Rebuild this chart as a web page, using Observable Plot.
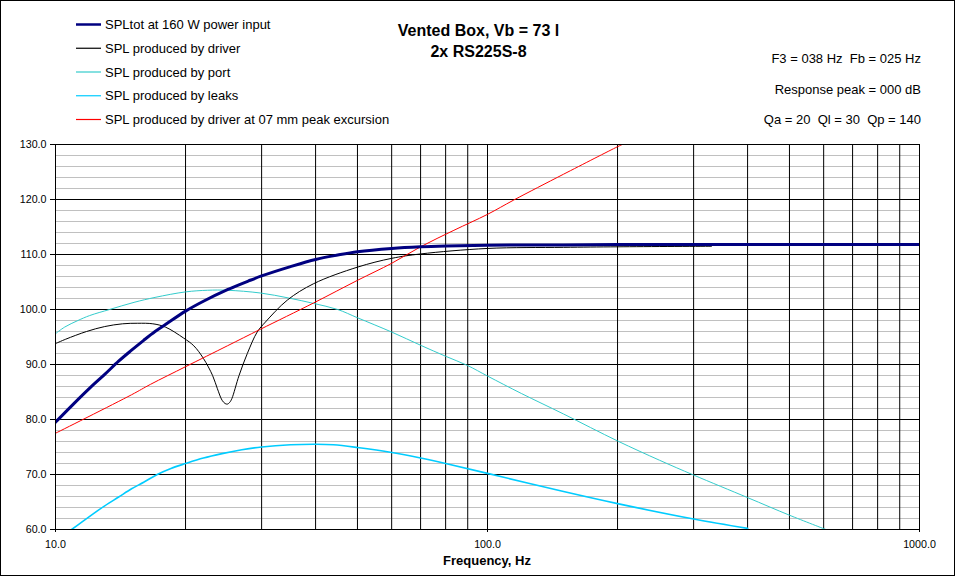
<!DOCTYPE html>
<html>
<head>
<meta charset="utf-8">
<script src="https://cdn.jsdelivr.net/npm/d3@7"></script>
<script src="https://cdn.jsdelivr.net/npm/@observablehq/plot@0.6"></script>
<style>
  html, body { margin: 0; padding: 0; background: #fff; }
  #chart svg { display: block; }
</style>
</head>
<body>
<div id="chart"></div>
<script>
// ---- Data ----
const titleLines = ["Vented Box, Vb = 73 l", "2x RS225S-8"];
const infoLines = ["F3 = 038 Hz  Fb = 025 Hz", "Response peak = 000 dB", "Qa = 20  Ql = 30  Qp = 140"];
const xTitle = "Frequency, Hz";

const seriesNames = [
  "SPLtot at 160 W power input",
  "SPL produced by driver",
  "SPL produced by port",
  "SPL produced by leaks",
  "SPL produced by driver at 07 mm peak excursion"
];
const seriesColors = ["#000080", "#000000", "#33CCCC", "#00CCFF", "#FF0000"];
const seriesWidths = [3, 1, 1, 1.6, 1];

const totFreq = [10, 11, 12, 13, 14, 15, 16, 17, 18, 20, 22, 25, 28, 30, 35, 40, 45, 50, 60, 70, 80, 100, 150, 200, 300, 500, 1000];
const totSpl  = [79.5, 82.8, 85.7, 88.2, 90.6, 92.6, 94.4, 96.0, 97.3, 99.7, 101.5, 103.6, 105.2, 106.1, 107.8, 109.1, 109.9, 110.5, 111.1, 111.4, 111.55, 111.7, 111.75, 111.8, 111.8, 111.8, 111.8];

const drvFreq = [10, 10.56, 11.8, 13, 14.3, 15.5, 16.8, 17.97, 19.8, 20.9, 22, 23.1, 23.7, 24.3, 24.7, 25, 25.3, 25.6, 26.6, 27.8, 29.3, 30.6, 34.4, 39.6, 50, 60, 70, 100, 150, 200, 330];
const drvSpl  = [93.8, 94.6, 96.0, 96.9, 97.4, 97.5, 97.4, 96.8, 94.8, 93.4, 91.1, 88.0, 85.6, 83.5, 82.9, 82.8, 83.1, 83.8, 88.0, 92.0, 95.9, 97.7, 101.7, 104.7, 107.7, 109.3, 110.1, 111.1, 111.3, 111.4, 111.5];

const portFreq = [10, 10.5, 11.27, 12, 13.34, 15.2, 17, 20, 22.5, 25, 29.8, 34.6, 39.6, 45, 50, 60, 70, 80, 90, 100, 120, 150, 200, 250, 300, 400, 500, 607];
const portSpl  = [95.6, 96.8, 98.0, 98.9, 100.0, 101.3, 102.2, 103.2, 103.5, 103.5, 103.0, 102.1, 101.1, 100.0, 98.5, 95.9, 93.5, 91.5, 89.8, 87.9, 84.7, 81.0, 76.1, 72.6, 69.9, 65.8, 62.6, 60.0];

const leakFreq = [10.9, 12, 13, 14, 15, 16, 17.2, 18.5, 20, 22, 24.3, 27, 30, 35, 40, 44, 50, 60, 70, 80, 100, 150, 200, 300, 400];
const leakSpl  = [60.0, 62.4, 64.3, 65.9, 67.4, 68.6, 70.0, 71.1, 72.0, 73.0, 73.8, 74.5, 75.0, 75.4, 75.5, 75.4, 74.9, 74.0, 73.0, 72.0, 70.2, 66.9, 64.7, 61.9, 60.2];

const redFreq = [10, 15, 16.6, 20, 25, 29.8, 39.6, 50, 60, 70, 83.6, 100, 115, 150, 200, 205];
const redSpl  = [77.5, 84.5, 86.4, 89.6, 93.4, 96.4, 101.2, 105.3, 108.4, 111.4, 114.4, 117.3, 119.9, 124.6, 129.6, 130.0];

const yMajor = [60, 70, 80, 90, 100, 110, 120, 130];
const yMinor = [62, 64, 66, 68, 72, 74, 76, 78, 82, 84, 86, 88, 92, 94, 96, 98, 102, 104, 106, 108, 112, 114, 116, 118, 122, 124, 126, 128];
const xGrid = [20, 30, 40, 50, 60, 70, 80, 90, 100, 200, 300, 400, 500, 600, 700, 800, 900];
const xTicks = [10, 100, 1000];

// ---- Build tables ----
const toRows = (fs, vs) => fs.map((f, i) => ({f, spl: vs[i]}));
const seriesData = [
  toRows(totFreq, totSpl),
  toRows(drvFreq, drvSpl),
  toRows(portFreq, portSpl),
  toRows(leakFreq, leakSpl),
  toRows(redFreq, redSpl)
];
const drawOrder = [2, 3, 1, 4, 0];

const font = "'Liberation Sans', Arial, sans-serif";

const chart = Plot.plot({
  width: 956,
  height: 577,
  marginLeft: 55,
  marginRight: 37,
  marginTop: 144,
  marginBottom: 48,
  x: {type: "log", domain: [10, 1000]},
  y: {domain: [60, 130]},
  style: {fontFamily: font, fontSize: "10.7px", background: "#fff", color: "#000", overflow: "visible"},
  marks: [
    Plot.ruleY(yMinor, {stroke: "#c0c0c0", strokeWidth: 1}),
    Plot.ruleY(yMajor, {stroke: "#000", strokeWidth: 1}),
    Plot.ruleX(xGrid, {stroke: "#000", strokeWidth: 1}),
    ...drawOrder.map(i => Plot.line(seriesData[i], {
      x: "f", y: "spl",
      stroke: seriesColors[i], strokeWidth: seriesWidths[i],
      curve: "catmull-rom", clip: true
    })),
    Plot.frame({stroke: "#000", strokeWidth: 1}),
    Plot.axisY({ticks: yMajor, tickFormat: d3.format(".1f"), tickSize: 5, tickPadding: 4, label: null, fill: "#000"}),
    Plot.axisX({ticks: xTicks, tickFormat: d3.format(".1f"), tickSize: 3, tickPadding: 8, label: null, fill: "#000"})
  ]
});

const svg = d3.select(chart);
const xs = chart.scale("x");
const xCenter = (xs.range[0] + xs.range[1]) / 2;

// outer border
svg.append("rect")
  .attr("x", 0.5).attr("y", 0.5).attr("width", 954).attr("height", 575)
  .attr("fill", "none").attr("stroke", "#000").attr("stroke-width", 1);

// legend
const leg = svg.append("g").attr("font-family", font).attr("font-size", 13).attr("text-anchor", "start");
seriesNames.forEach((name, i) => {
  const y = 24.5 + i * 23.75;
  leg.append("line")
    .attr("x1", 76).attr("x2", 101).attr("y1", y).attr("y2", y)
    .attr("stroke", seriesColors[i]).attr("stroke-width", i === 0 ? 2.5 : 1.2);
  leg.append("text").attr("x", 105).attr("y", y + 4.7)
    .attr("text-anchor", "start").attr("fill", "#000").text(name);
});

// title
titleLines.forEach((t, i) => {
  svg.append("text")
    .attr("x", 478.5).attr("y", 36 + i * 21)
    .attr("text-anchor", "middle")
    .attr("font-family", font).attr("font-size", 16).attr("font-weight", "bold")
    .attr("fill", "#000").text(t);
});

// info lines
infoLines.forEach((t, i) => {
  svg.append("text")
    .attr("x", 921).attr("y", 63 + i * 30.5)
    .attr("text-anchor", "end")
    .style("white-space", "pre")
    .attr("font-family", font).attr("font-size", 13)
    .attr("fill", "#000").text(t);
});

// x-axis title
svg.append("text")
  .attr("x", xCenter).attr("y", 565)
  .attr("text-anchor", "middle")
  .attr("font-family", font).attr("font-size", 13).attr("font-weight", "bold")
  .attr("fill", "#000").text(xTitle);

document.getElementById("chart").appendChild(chart);
</script>
</body>
</html>
